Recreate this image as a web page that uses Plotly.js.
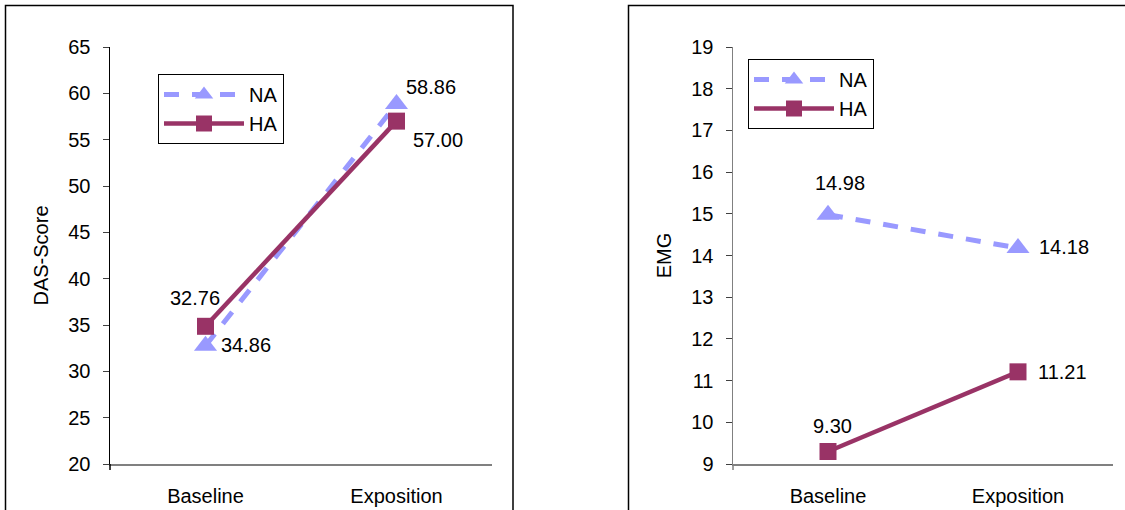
<!DOCTYPE html>
<html>
<head>
<meta charset="utf-8">
<script src="https://cdn.plot.ly/plotly-3.0.1.min.js"></script>
<style>
  html, body { margin: 0; padding: 0; background: #ffffff; }
  #chart { width: 1125px; height: 510px; }
</style>
</head>
<body>
<div id="chart"></div>
<script>
// Measurement phases shared by both panels
const phases = ['Baseline', 'Exposition'];

// DAS-Score per group
const dasNA = [32.76, 58.86];
const dasHA = [34.86, 57.00];

// EMG per group
const emgNA = [14.98, 14.18];
const emgHA = [9.30, 11.21];

// Axis ranges and ticks
const dasTicks = [20, 25, 30, 35, 40, 45, 50, 55, 60, 65];
const emgTicks = [9, 10, 11, 12, 13, 14, 15, 16, 17, 18, 19];

const FONT = 'Liberation Sans, Arial, sans-serif';
const NA_COLOR = '#9999FF';
const HA_COLOR = '#993366';

function naTrace(y, xa, ya, legend) {
  return {
    x: phases, y: y, xaxis: xa, yaxis: ya, name: 'NA', legend: legend,
    mode: 'lines+markers',
    line: { color: NA_COLOR, width: 5, dash: '15px,13px' },
    marker: { symbol: 'triangle-up', size: 20, color: NA_COLOR }
  };
}
function haTrace(y, xa, ya, legend) {
  return {
    x: phases, y: y, xaxis: xa, yaxis: ya, name: 'HA', legend: legend,
    mode: 'lines+markers',
    line: { color: HA_COLOR, width: 4.5 },
    marker: { symbol: 'square', size: 17, color: HA_COLOR }
  };
}

const data = [
  naTrace(dasNA, 'x', 'y', 'legend'),
  haTrace(dasHA, 'x', 'y', 'legend'),
  naTrace(emgNA, 'x2', 'y2', 'legend2'),
  haTrace(emgHA, 'x2', 'y2', 'legend2')
];

// Value labels: screen offsets (px right, px up) of each label from its point
const labelShift = {
  dasNA: [[-11, 48], [34, 17]],
  dasHA: [[40, -19], [41, -19]],
  emgNA: [[12, 32], [46, 1]],
  emgHA: [[4, 25], [44, 0]]
};
const series = { dasNA, dasHA, emgNA, emgHA };
const annotations = [];
Object.keys(series).forEach(key => {
  const isDas = key.startsWith('das');
  series[key].forEach((v, i) => {
    annotations.push({
      xref: isDas ? 'x' : 'x2', yref: isDas ? 'y' : 'y2',
      x: phases[i], y: v, text: v.toFixed(2), showarrow: false,
      xanchor: 'center', yanchor: 'middle',
      xshift: labelShift[key][i][0], yshift: labelShift[key][i][1],
      font: { family: FONT, size: 20, color: '#000000' }
    });
  });
});

const W = 1125, H = 510;
const px = v => v / W;
const py = v => (H - v) / H;

function xAxis(domain) {
  return {
    domain: domain, range: [-0.5, 1.5], type: 'category',
    showgrid: false, zeroline: false, showline: true,
    linecolor: '#808080', linewidth: 1.5, ticks: '',
    ticklabelstandoff: 13,
    tickfont: { family: FONT, size: 20, color: '#000000' }, fixedrange: true
  };
}
function yAxis(range, ticks, title, lineColor, anchor) {
  return {
    domain: [py(464), py(47)], range: range, tickvals: ticks,
    anchor: anchor,
    showgrid: false, zeroline: false, showline: true,
    linecolor: lineColor, linewidth: 1.5,
    ticks: 'outside', ticklen: 6, tickcolor: '#404040', tickwidth: 1,
    ticklabelstandoff: 8,
    tickfont: { family: FONT, size: 20, color: '#000000' },
    title: { text: title, font: { family: FONT, size: 20, color: '#000000' }, standoff: 14 },
    fixedrange: true
  };
}

const legendStyle = {
  xanchor: 'left', yanchor: 'top',
  bgcolor: '#ffffff', bordercolor: '#000000', borderwidth: 1,
  font: { family: FONT, size: 20, color: '#000000' },
  itemwidth: 80, tracegroupgap: 0
};

const layout = {
  width: W, height: H,
  margin: { l: 0, r: 0, t: 0, b: 0 },
  paper_bgcolor: '#ffffff', plot_bgcolor: 'rgba(0,0,0,0)',
  font: { family: FONT, size: 20, color: '#000000' },
  xaxis: xAxis([px(110), px(492)]),
  yaxis: yAxis([20, 65], dasTicks, 'DAS-Score', '#000000', 'x'),
  xaxis2: Object.assign(xAxis([px(733), px(1113)]), { anchor: 'y2' }),
  yaxis2: yAxis([9, 19], emgTicks, 'EMG', '#808080', 'x2'),
  legend: Object.assign({ x: px(158), y: py(74) }, legendStyle),
  legend2: Object.assign({ x: px(748), y: py(59) }, legendStyle),
  annotations: annotations,
  shapes: [
    // chart frames
    { type: 'rect', xref: 'paper', yref: 'paper', x0: px(5.5), x1: px(513), y0: py(530), y1: py(5.5),
      line: { color: '#000000', width: 1.5 }, fillcolor: 'rgba(0,0,0,0)', layer: 'below' },
    { type: 'rect', xref: 'paper', yref: 'paper', x0: px(628.5), x1: px(1140), y0: py(530), y1: py(5.5),
      line: { color: '#000000', width: 1.5 }, fillcolor: 'rgba(0,0,0,0)', layer: 'below' },
    // category axis boundary ticks
    { type: 'line', xref: 'paper', yref: 'paper', x0: px(110), x1: px(110), y0: py(464), y1: py(470),
      line: { color: '#000000', width: 1.5 } },
    { type: 'line', xref: 'paper', yref: 'paper', x0: px(733), x1: px(733), y0: py(464), y1: py(470),
      line: { color: '#808080', width: 1.5 } }
  ]
};

Plotly.newPlot('chart', data, layout, { displayModeBar: false, staticPlot: true });
</script>
</body>
</html>
